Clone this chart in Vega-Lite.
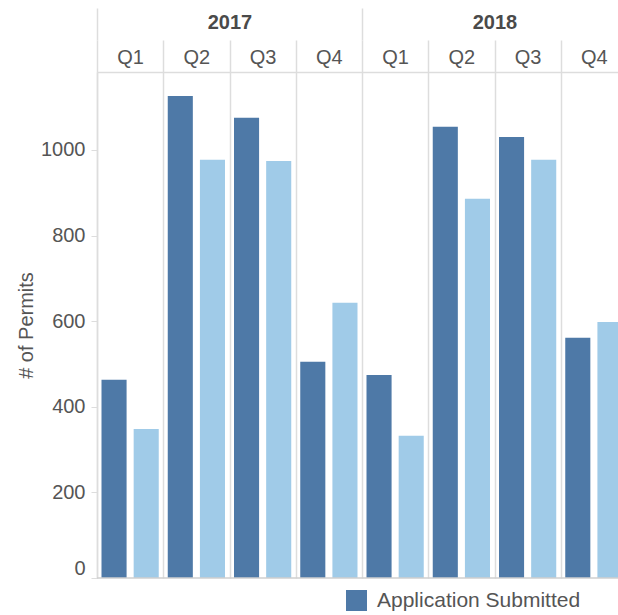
{
  "$schema": "https://vega.github.io/schema/vega-lite/v6.json",
  "autosize": {"type": "none"},
  "padding": {"left": 97, "top": 72, "right": 0, "bottom": 37},
  "width": 530,
  "height": 506,
  "background": "white",
  "config": {
    "font": "Liberation Sans",
    "view": {"stroke": null}
  },
  "data": {
    "values": [
      {"year": "2017", "period": "2017 Q1", "series": "Application Submitted", "value": 463},
      {"year": "2017", "period": "2017 Q1", "series": "Permit Issued", "value": 348},
      {"year": "2017", "period": "2017 Q2", "series": "Application Submitted", "value": 1126},
      {"year": "2017", "period": "2017 Q2", "series": "Permit Issued", "value": 977},
      {"year": "2017", "period": "2017 Q3", "series": "Application Submitted", "value": 1075},
      {"year": "2017", "period": "2017 Q3", "series": "Permit Issued", "value": 974},
      {"year": "2017", "period": "2017 Q4", "series": "Application Submitted", "value": 505},
      {"year": "2017", "period": "2017 Q4", "series": "Permit Issued", "value": 643},
      {"year": "2018", "period": "2018 Q1", "series": "Application Submitted", "value": 474},
      {"year": "2018", "period": "2018 Q1", "series": "Permit Issued", "value": 332},
      {"year": "2018", "period": "2018 Q2", "series": "Application Submitted", "value": 1054},
      {"year": "2018", "period": "2018 Q2", "series": "Permit Issued", "value": 886},
      {"year": "2018", "period": "2018 Q3", "series": "Application Submitted", "value": 1030},
      {"year": "2018", "period": "2018 Q3", "series": "Permit Issued", "value": 977},
      {"year": "2018", "period": "2018 Q4", "series": "Application Submitted", "value": 561},
      {"year": "2018", "period": "2018 Q4", "series": "Permit Issued", "value": 598}
    ]
  },
  "layer": [
    {
      "mark": {"type": "bar"},
      "encoding": {
        "x": {
          "field": "period",
          "type": "ordinal",
          "scale": {"paddingInner": 0, "paddingOuter": 0},
          "axis": {
            "orient": "top",
            "title": null,
            "labelExpr": "datum.value ? substring(datum.value, 5) : ''",
            "labelAngle": 0,
            "labelFontSize": 20,
            "labelColor": "#555555",
            "labelBaseline": "alphabetic",
            "labelPadding": -23,
            "labelOverlap": false,
            "tickBand": "extent",
            "ticks": true,
            "tickSize": 32,
            "tickColor": "#dddddd",
            "tickWidth": 1.5,
            "grid": true,
            "gridColor": "#dddddd",
            "gridWidth": 1.5,
            "domain": true,
            "domainColor": "#dddddd",
            "domainWidth": 1.5
          }
        },
        "xOffset": {
          "field": "series",
          "type": "nominal",
          "scale": {"paddingInner": 0.22, "paddingOuter": 0.14}
        },
        "y": {
          "field": "value",
          "type": "quantitative",
          "scale": {"domain": [0, 1182], "nice": false},
          "axis": {
            "values": [0, 200, 400, 600, 800, 1000],
            "format": "d",
            "title": "# of Permits",
            "titleFontSize": 20,
            "titleFontWeight": "normal",
            "titleColor": "#555555",
            "titlePadding": 4,
            "labelFontSize": 20,
            "labelColor": "#555555",
            "labelPadding": 6,
            "labelFlush": true,
            "tickSize": 6,
            "tickColor": "#dddddd",
            "domainColor": "#dddddd",
            "domainWidth": 1.5,
            "grid": false
          }
        },
        "color": {
          "field": "series",
          "type": "nominal",
          "scale": {
            "domain": ["Application Submitted", "Permit Issued"],
            "range": ["#4e79a7", "#a0cbe8"]
          },
          "legend": {
            "orient": "none",
            "direction": "horizontal",
            "legendX": 249,
            "legendY": 518,
            "title": null,
            "padding": 0,
            "symbolType": "square",
            "symbolSize": 441,
            "symbolStrokeWidth": 0,
            "symbolOpacity": 1,
            "labelFontSize": 21,
            "labelColor": "#555555",
            "labelOffset": 10,
            "labelLimit": 0,
            "columnPadding": 60
          }
        }
      }
    },
    {
      "mark": {"type": "rule", "opacity": 0},
      "encoding": {
        "x": {
          "field": "year",
          "type": "ordinal",
          "scale": {"paddingInner": 0, "paddingOuter": 0},
          "axis": {
            "orient": "top",
            "title": null,
            "offset": 32,
            "labelAngle": 0,
            "labelFontSize": 20,
            "labelFontWeight": "bold",
            "labelColor": "#4a4a4a",
            "labelBaseline": "alphabetic",
            "labelPadding": -20,
            "labelOverlap": false,
            "tickBand": "extent",
            "ticks": true,
            "tickSize": 32,
            "tickColor": "#dddddd",
            "tickWidth": 1.5,
            "grid": false,
            "domain": false
          }
        }
      }
    },
    {
      "data": {"values": [{"zero": 0}]},
      "mark": {"type": "rule", "color": "#cfcfcf", "strokeWidth": 1.5},
      "encoding": {"y": {"field": "zero", "type": "quantitative"}}
    }
  ],
  "resolve": {"scale": {"x": "independent"}, "axis": {"x": "independent"}}
}
